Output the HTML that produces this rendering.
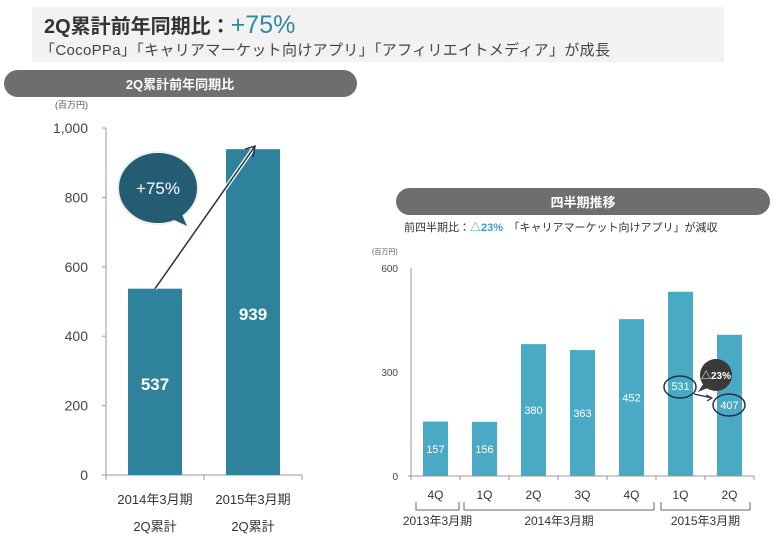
<!DOCTYPE html>
<html><head><meta charset="utf-8"><style>
body{margin:0;width:778px;height:543px;background:#fff;overflow:hidden;font-family:"Liberation Sans","Noto Sans CJK JP",sans-serif}
svg text{font-family:"Liberation Sans","Noto Sans CJK JP",sans-serif}
</style></head><body>
<svg width="778" height="543" viewBox="0 0 778 543">
<rect x="32" y="7" width="692" height="55" fill="#f2f2f2"/>
<text x="44" y="33" font-size="20" font-weight="bold" fill="#333">2Q累計前年同期比：<tspan fill="#2f8aa0" font-size="25" font-weight="normal">+75%</tspan></text>
<text x="40" y="55" font-size="15" fill="#444" textLength="570">「CocoPPa」「キャリアマーケット向けアプリ」「アフィリエイトメディア」が成長</text>
<rect x="4" y="70" width="353" height="27" rx="13.5" fill="#6e6e6e"/>
<text x="180" y="89" font-size="13" font-weight="bold" fill="#fff" text-anchor="middle">2Q累計前年同期比</text>
<rect x="396" y="188" width="374" height="27" rx="13.5" fill="#6e6e6e"/>
<text x="583" y="207" font-size="13" font-weight="bold" fill="#fff" text-anchor="middle">四半期推移</text>
<text x="404" y="231" font-size="11" fill="#333">前四半期比：<tspan fill="#3aa0b8" font-weight="bold">△23%</tspan>　「キャリアマーケット向けアプリ」が減収</text>
<g id="left"></g>
<g id="right"></g>
</svg>
<script>
const leftCats1=["2014年3月期","2015年3月期"];
const leftCats2=["2Q累計","2Q累計"];
const leftValues=[537,939];
const leftTicks=[0,200,400,600,800,1000];
const rightCats=["4Q","1Q","2Q","3Q","4Q","1Q","2Q"];
const rightValues=[157,156,380,363,452,531,407];
const rightTicks=[0,300,600];
const NS="http://www.w3.org/2000/svg";
function mk(p,t,a,txt){const e=document.createElementNS(NS,t);for(const k in a)e.setAttribute(k,a[k]);if(txt!=null)e.textContent=txt;p.appendChild(e);return e;}
// left
const L=document.getElementById('left');
const ly=v=>475-v*0.347, lx0=106, lstep=98;
mk(L,'line',{x1:lx0,y1:128,x2:lx0,y2:475,stroke:'#999'});
mk(L,'line',{x1:lx0,y1:475,x2:lx0+2*lstep,y2:475,stroke:'#999'});
leftTicks.forEach(t=>{
 const tk=mk(L,'line',{x1:lx0-4,y1:ly(t),x2:lx0,y2:ly(t),stroke:'#999'});
 
 
 const lb=mk(L,'text',{x:88,y:ly(t)+5,'font-size':14,fill:'#444','text-anchor':'end'},t.toLocaleString('en-US'));
 
 
});
mk(L,'text',{x:55,y:108,'font-size':9,fill:'#555'},'(百万円)');
for(let i=0;i<=2;i++)mk(L,'line',{x1:lx0+i*lstep,y1:475,x2:lx0+i*lstep,y2:480,stroke:'#999'});
leftValues.forEach((v,i)=>{
 const cx=lx0+lstep*(i+0.5);
 const b=mk(L,'rect',{x:cx-27,y:ly(v),width:54,height:475-ly(v),fill:'#2e829b'});
 
 
 mk(L,'text',{x:cx,y:ly(v)+(475-ly(v))/2+8,'font-size':17,'font-weight':'bold',fill:'#fff','text-anchor':'middle'},v);
 mk(L,'text',{x:cx,y:504,'font-size':13,fill:'#333','text-anchor':'middle'},leftCats1[i]);
 mk(L,'text',{x:cx,y:531,'font-size':13,fill:'#333','text-anchor':'middle'},leftCats2[i]);
});
const ax1=lx0+lstep*0.5, ax2=lx0+lstep*1.5+2;
mk(L,'line',{x1:ax1,y1:ly(leftValues[0]),x2:ax2,y2:ly(leftValues[1])-3,stroke:'#fff','stroke-width':4});
mk(L,'line',{x1:ax1,y1:ly(leftValues[0]),x2:ax2,y2:ly(leftValues[1])-3,stroke:'#234',"stroke-width":1.5});
mk(L,'path',{d:`M${ax2-10} ${ly(leftValues[1])} L${ax2} ${ly(leftValues[1])-3} L${ax2-2} ${ly(leftValues[1])+8}`,stroke:'#234',fill:'none','stroke-width':1.5});
mk(L,'ellipse',{cx:158,cy:188,rx:40,ry:36,fill:'#245d73',stroke:'#eee','stroke-width':2});
mk(L,'path',{d:'M180 210 L187 226 L170 218 Z',fill:'#245d73'});
mk(L,'text',{x:158,y:194,'font-size':17,fill:'#fff','text-anchor':'middle'},'+75%');
// right
const R=document.getElementById('right');
const ry=v=>476-v*0.347, rx0=411, rstep=49;
mk(R,'line',{x1:rx0,y1:268,x2:rx0,y2:476,stroke:'#999'});
mk(R,'line',{x1:rx0-3,y1:476,x2:rx0+7*rstep,y2:476,stroke:'#999'});
mk(R,'text',{x:372,y:254,'font-size':7,fill:'#555'},'(百万円)');
rightTicks.forEach(t=>{
 const lb=mk(R,'text',{x:398,y:ry(t)+4,'font-size':10,fill:'#444','text-anchor':'end'},t);
 
 
});
for(let i=0;i<=7;i++)mk(R,'line',{x1:rx0+i*rstep,y1:476,x2:rx0+i*rstep,y2:480,stroke:'#999'});
rightValues.forEach((v,i)=>{
 const cx=rx0+rstep*(i+0.5);
 const b=mk(R,'rect',{x:cx-12.5,y:ry(v),width:25,height:476-ry(v),fill:'#4aa9c5'});
 
 
 const ty=ry(v)+(476-ry(v))/2+4;
 mk(R,'text',{x:cx,y:i>=5?(i==5?390:409):ty,'font-size':11,fill:'#fff','text-anchor':'middle'},v);
 mk(R,'text',{x:cx,y:499,'font-size':12,fill:'#333','text-anchor':'middle'},rightCats[i]);
});
// brackets
[[416,459,'2013年3月期'],[464,654,'2014年3月期'],[661,750,'2015年3月期']].forEach(g=>{
 mk(R,'path',{d:`M${g[0]} 502 V510 H${g[1]} V502`,stroke:'#666',fill:'none'});
 mk(R,'text',{x:(g[0]+g[1])/2,y:525,'font-size':12,fill:'#333','text-anchor':'middle'},g[2]);
});
mk(R,'ellipse',{cx:680,cy:387,rx:16,ry:11,fill:'none',stroke:'#234','stroke-width':1.5});
mk(R,'ellipse',{cx:729,cy:405,rx:16,ry:11,fill:'none',stroke:'#234','stroke-width':1.5});
mk(R,'path',{d:'M694 394 L712 398 M706 395 L712 398 L707 401',stroke:'#234',fill:'none','stroke-width':1.2});
mk(R,'circle',{cx:716,cy:375,r:16,fill:'#3a3a3a'});
mk(R,'path',{d:'M704 383 L698 392 L710 387 Z',fill:'#3a3a3a'});
mk(R,'text',{x:716,y:379,'font-size':10,'font-weight':'bold',fill:'#fff','text-anchor':'middle'},'△23%');
</script>
</body></html>
